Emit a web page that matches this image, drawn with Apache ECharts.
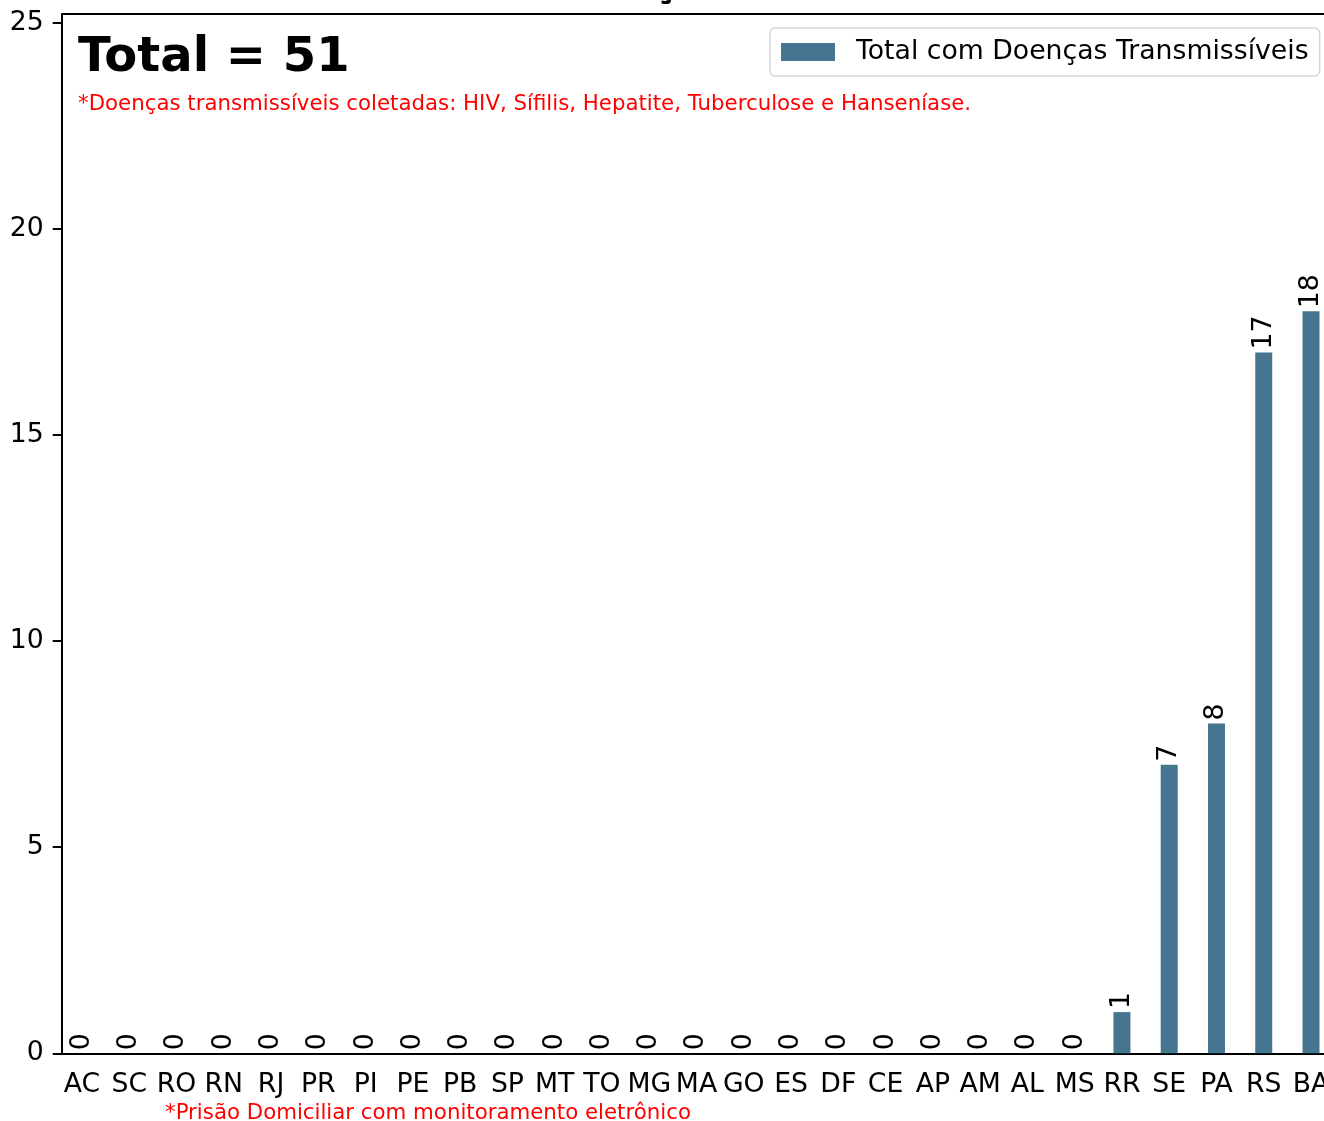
<!DOCTYPE html>
<html>
<head>
<meta charset="utf-8">
<script src="https://cdn.jsdelivr.net/npm/echarts@6/dist/echarts.min.js"></script>
<style>
html,body{margin:0;padding:0;background:#fff;}
#chart{width:1324px;height:1121px;}
</style>
</head>
<body>
<div id="chart"></div>
<script>
const categories = ['AC','SC','RO','RN','RJ','PR','PI','PE','PB','SP','MT','TO','MG','MA','GO','ES','DF','CE','AP','AM','AL','MS','RR','SE','PA','RS','BA'];
const values = [0,0,0,0,0,0,0,0,0,0,0,0,0,0,0,0,0,0,0,0,0,0,1,7,8,17,18];
const seriesName = 'Total com Doenças Transmissíveis';
const yTicks = [0,5,10,15,20,25];
const totalText = 'Total = ' + values.reduce((a,b)=>a+b,0);
const noteTop = '*Doenças transmissíveis coletadas: HIV, Sífilis, Hepatite, Tuberculose e Hanseníase.';
const noteBottom = '*Prisão Domiciliar com monitoramento eletrônico';
const titleText = 'Presos com Doenças Transmissíveis';

const FONT = 'DejaVu Sans';
const FS = 26.7;
const chart = echarts.init(document.getElementById('chart'), null, {renderer:'canvas'});
const option = {
  backgroundColor: '#ffffff',
  animation: false,
  textStyle: {fontFamily: FONT},
  grid: {left: 58.35, width: 1276.3, top: 14, bottom: 67.7, containLabel: false, outerBoundsMode: 'none'},
  legend: {
    left: 770, top: 28,
    padding: [9, 11, 9, 11],
    backgroundColor: '#ffffff',
    borderColor: '#d6d6d6', borderWidth: 1.5, borderRadius: 5,
    itemWidth: 54, itemHeight: 18, icon: 'rect',
    textStyle: {fontFamily: FONT, fontSize: FS, color: '#000', lineHeight: 30, padding: [0,0,0,16]},
    data: [seriesName]
  },
  xAxis: {
    type: 'category', data: categories,
    axisLine: {lineStyle: {color: '#000', width: 2}},
    axisTick: {alignWithLabel: true, length: 9, lineStyle: {color: '#000', width: 2}},
    axisLabel: {fontFamily: FONT, fontSize: FS, color: '#000', margin: 18, interval: 0, hideOverlap: false},
    splitLine: {show: false}
  },
  yAxis: {
    type: 'value', min: 0, max: 25.21, interval: 5, offset: -3.35,
    axisLine: {show: true, lineStyle: {color: '#000', width: 2}},
    axisTick: {show: true, length: 9, lineStyle: {color: '#000', width: 2},
      customValues: yTicks},
    axisLabel: {fontFamily: FONT, fontSize: FS, color: '#000', margin: 18,
      customValues: yTicks},
    splitLine: {show: false}
  },
  series: [{
    name: seriesName, type: 'bar', data: values, barWidth: 17,
    itemStyle: {color: '#46758f'},
    label: {show: true, position: 'top', rotate: 90, align: 'left', verticalAlign: 'middle',
      distance: 3, fontFamily: FONT, fontSize: FS, color: '#000'}
  }],
  graphic: [
    {type: 'line', silent: true, shape: {x1: 61.7, y1: 14, x2: 1324, y2: 14},
      style: {stroke: '#000', lineWidth: 2}},
    {type: 'text', silent: true, style: {x: 668, y: -15, text: titleText, align: 'center', verticalAlign: 'middle',
      font: 'bold 42.7px "DejaVu Sans"', fill: '#000'}},
    {type: 'text', silent: true, style: {x: 78, y: 58.5, text: totalText, verticalAlign: 'middle',
      font: 'bold 48px "DejaVu Sans"', fill: '#000'}},
    {type: 'text', silent: true, style: {x: 78, y: 104, text: noteTop, verticalAlign: 'middle',
      font: '21.3px "DejaVu Sans"', fill: '#ff0000'}},
    {type: 'text', silent: true, style: {x: 165, y: 1113.5, text: noteBottom, verticalAlign: 'middle',
      font: '21.3px "DejaVu Sans"', fill: '#ff0000'}}
  ]
};
chart.setOption(option);
</script>
</body>
</html>
